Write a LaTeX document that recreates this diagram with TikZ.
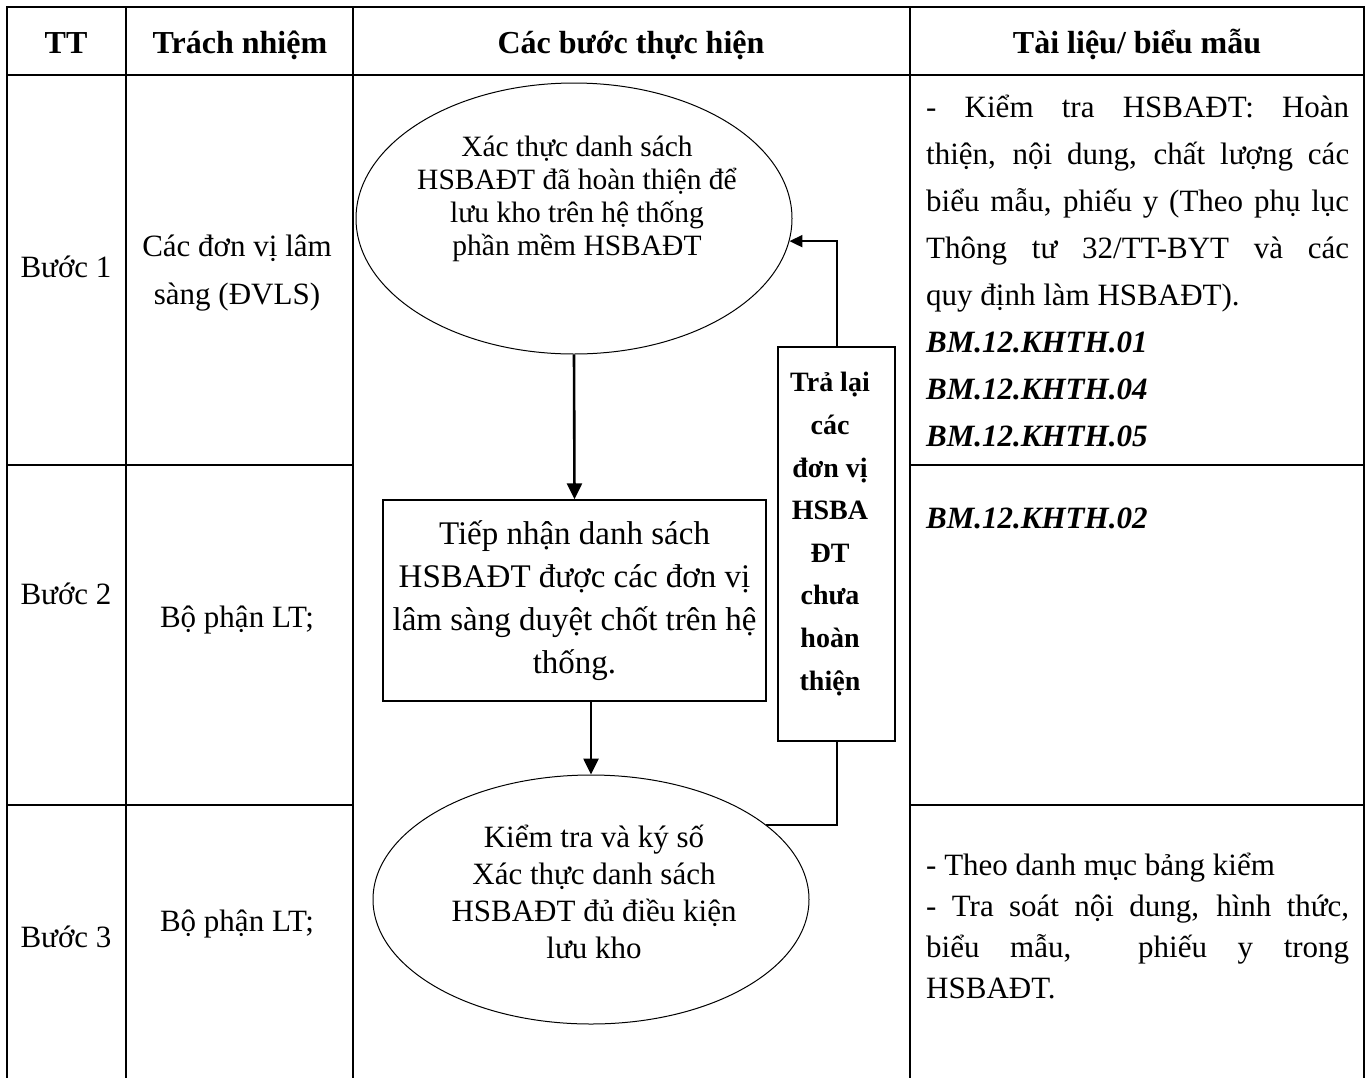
\documentclass[tikz,border=0pt]{standalone}
\usepackage{fontspec}
\setmainfont{Liberation Serif}
\usetikzlibrary{arrows.meta,positioning,calc,shapes.geometric}
\definecolor{Ink}{HTML}{000000}
% justified paragraph set-up for the documents column
\newcommand{\docpar}{\leftskip=0pt\relax\rightskip=0pt\relax\spaceskip=0pt\relax\xspaceskip=0pt\relax\parfillskip=0pt plus 1fil\relax\tolerance=9999\relax\hyphenpenalty=10000\relax}

\begin{document}
\begin{tikzpicture}[x=1pt,y=-1pt,
  rule/.style={Ink,line width=2.6pt,line cap=rect},
  headtxt/.style={anchor=base,inner sep=0pt,font=\fontsize{32}{38}\selectfont\bfseries},
  celltxt/.style={inner sep=0pt,font=\fontsize{31}{48}\selectfont,align=center},
  doctxt/.style={anchor=base west,inner sep=0pt,text width=423pt},
  oval/.style={ellipse,draw=Ink,line width=1pt,inner sep=0pt},
  boxed/.style={rectangle,draw=Ink,line width=1.3pt,inner sep=0pt},
  flow/.style={-{Triangle[length=16pt,width=15pt]},Ink,line width=2.6pt},
  loopback/.style={Ink,line width=2pt}]
\useasboundingbox (0,0) rectangle (1368,1077);

% table frame
\draw[rule] (7,7) -- (1364,7);
\draw[rule] (7,75) -- (1364,75);
\draw[rule] (7,465) -- (353,465);
\draw[rule] (910,465) -- (1364,465);
\draw[rule] (7,805) -- (353,805);
\draw[rule] (910,805) -- (1364,805);
\draw[rule] (7,7) -- (7,1077);
\draw[rule] (126,7) -- (126,1077);
\draw[rule] (353,7) -- (353,1077);
\draw[rule] (910,7) -- (910,1077);
\draw[rule] (1364,7) -- (1364,1077);

% header
\node[headtxt] (hTT) at (66,53) {TT};
\node[headtxt] (hResp) at (240,53) {Trách nhiệm};
\node[headtxt] (hSteps) at (631,53) {Các bước thực hiện};
\node[headtxt] (hDocs) at (1137,53) {Tài liệu/ biểu mẫu};

% steps and responsibility
\node[celltxt,anchor=base] (s1) at (66,277) {Bước 1};
\node[celltxt,anchor=base] (s2) at (66,604) {Bước 2};
\node[celltxt,anchor=base] (s3) at (66,947) {Bước 3};
\node[celltxt] (r1) at (237,273) {Các đơn vị lâm\\sàng (ĐVLS)};
\node[celltxt,anchor=base] (r2) at (237,627) {Bộ phận LT;};
\node[celltxt,anchor=base] (r3) at (237,931) {Bộ phận LT;};

% flow chart
\node[oval,minimum width=436pt,minimum height=271pt] (verify) at (574,218.5) {};
\node[inner sep=0pt,align=center,font=\fontsize{29.5}{33}\selectfont] (verifytxt) at (577,199) {Xác thực danh sách\\HSBAĐT đã hoàn thiện để\\lưu kho trên hệ thống\\phần mềm HSBAĐT};
\node[boxed,minimum width=383pt,minimum height=201pt,align=center,font=\fontsize{33}{43}\selectfont] (receive) at (574.5,600.5) {Tiếp nhận danh sách\\HSBAĐT được các đơn vị\\lâm sàng duyệt chốt trên hệ\\thống.};
\node[oval,minimum width=436pt,minimum height=249pt] (sign) at (591,899.5) {};
\node[inner sep=0pt,align=center,font=\fontsize{31}{37}\selectfont] (signtxt) at (594,892) {Kiểm tra và ký số\\Xác thực danh sách\\HSBAĐT đủ điều kiện\\lưu kho};
\node[boxed,minimum width=117pt,minimum height=394pt] (giveback) at (836.5,544) {};
\node[inner sep=0pt,align=center,font=\fontsize{28}{42.6}\selectfont\bfseries] (givebacktxt) at (830,534) {Trả lại\\các\\đơn vị\\HSBA\\ĐT\\chưa\\hoàn\\thiện};

\draw[flow] (verify.south) -- (receive.north);
\draw[flow] (receive.south -| sign.north) -- (sign.north);
\draw[loopback] (sign.23) -| (giveback.south);
\draw[loopback,-{Triangle[length=13pt,width=12pt]}] (giveback.north) |- (verify.-6);

% documents column
\node[doctxt,font=\fontsize{31}{47}\selectfont] (doc1) at (926,117) {\docpar - Kiểm tra HSBAĐT: Hoàn\linebreak thiện, nội dung, chất lượng các\linebreak biểu mẫu, phiếu y (Theo phụ lục\linebreak Thông tư 32/TT-BYT và các\linebreak quy định làm HSBAĐT).\newline\textbf{\textit{BM.12.KHTH.01}}\newline\textbf{\textit{BM.12.KHTH.04}}\newline\textbf{\textit{BM.12.KHTH.05}}\par};
\node[anchor=base west,inner sep=0pt,font=\fontsize{31}{38}\selectfont\bfseries\itshape] (doc2) at (926,528) {BM.12.KHTH.02};
\node[doctxt,font=\fontsize{31}{41}\selectfont] (doc3) at (926,875) {\docpar - Theo danh mục bảng kiểm\newline - Tra soát nội dung, hình thức,\linebreak biểu mẫu, \ phiếu y trong\linebreak HSBAĐT.\par};
\end{tikzpicture}
\end{document}
